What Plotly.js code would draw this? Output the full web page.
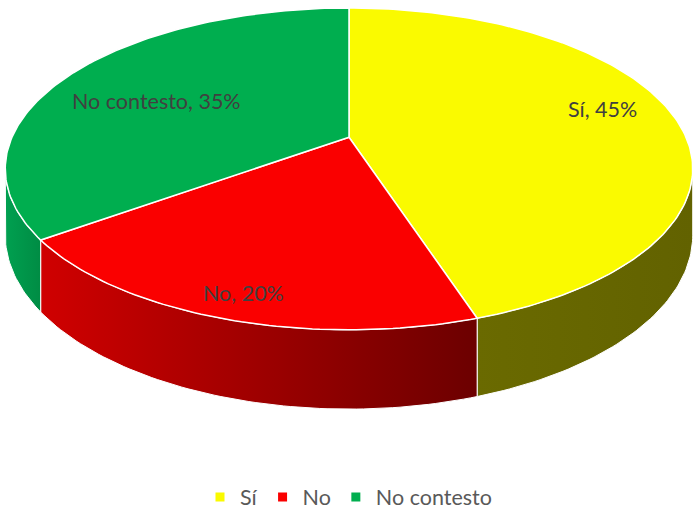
<!DOCTYPE html>
<html>
<head>
<meta charset="utf-8">
<script src="https://cdn.plot.ly/plotly-3.0.1.min.js"></script>
<style>html,body{margin:0;padding:0;background:#fff;}#chart{width:697px;height:518px;}</style>
</head>
<body>
<div id="chart"></div>
<script>
// ---- data ----
const categories = ['Sí', 'No', 'No contesto'];
const values = [45, 20, 35];            // percent
const topColors = ['#FAFA00', '#FA0000', '#00AE4F'];
const sideColors = ['#666600', '#B00000', '#00984A'];
const sideGradients = [
  [[0, '#6A6A00'], [1, '#626200']],
  [[0, '#D00000'], [1, '#6C0000']],
  [[0, '#00A050'], [1, '#008C44']]
];

// ---- 3D-pie projection (style constants) ----
const CX = 349, CY = 138, RX = 337, RY = 155.6, K = 0.197, DEPTH = 64;
const labelRadius = [0.78, 0.85, 0.68];
const labelYShift = [10, -7, -9];

function proj(tDeg, r, drop) {
  const t = tDeg * Math.PI / 180;
  const u = r * Math.sin(t), v = -r * Math.cos(t);
  const s = 1 / (1 - K * v);
  return [CX + RX * u * s, CY + RY * v * s + drop * s];
}

const total = values.reduce((a, b) => a + b, 0);
const angles = [];
let acc = 0;
values.forEach(v => { const a = acc; acc += v / total * 360; angles.push([a, acc]); });

const visLo = Math.acos(-K) * 180 / Math.PI;
const visHi = 360 - visLo;

const traces = [];
// side walls
angles.forEach(([a, b], i) => {
  const lo = Math.max(a, visLo), hi = Math.min(b, visHi);
  if (hi <= lo) return;
  const xs = [], ys = [];
  const n = Math.max(2, Math.ceil(hi - lo));
  for (let j = 0; j <= n; j++) { const p = proj(lo + (hi - lo) * j / n, 1, 0); xs.push(p[0]); ys.push(p[1]); }
  for (let j = n; j >= 0; j--) { const p = proj(lo + (hi - lo) * j / n, 1, DEPTH); xs.push(p[0]); ys.push(p[1]); }
  xs.push(xs[0]); ys.push(ys[0]);
  traces.push({
    type: 'scatter', mode: 'lines', x: xs, y: ys, fill: 'toself',
    fillcolor: sideColors[i],
    fillgradient: { type: 'horizontal', colorscale: sideGradients[i] },
    line: { color: '#ffffff', width: 1 }, hoverinfo: 'skip', showlegend: false
  });
});
// top faces
angles.forEach(([a, b], i) => {
  const c = proj(0, 0, 0);
  const xs = [c[0]], ys = [c[1]];
  const n = Math.max(2, Math.ceil(b - a));
  for (let j = 0; j <= n; j++) { const p = proj(a + (b - a) * j / n, 1, 0); xs.push(p[0]); ys.push(p[1]); }
  xs.push(c[0]); ys.push(c[1]);
  traces.push({
    type: 'scatter', mode: 'lines', x: xs, y: ys, fill: 'toself',
    fillcolor: topColors[i], line: { color: '#ffffff', width: 1.5 },
    name: categories[i], hoverinfo: 'name', showlegend: false
  });
});
// legend entries
categories.forEach((c, i) => {
  traces.push({
    type: 'scatter', mode: 'markers', x: [null], y: [null], name: c,
    marker: { symbol: 'square', size: 9, color: topColors[i] }, showlegend: true
  });
});

const annotations = angles.map(([a, b], i) => {
  const p = proj((a + b) / 2, labelRadius[i], 0);
  return {
    x: p[0], y: p[1], xref: 'x', yref: 'y', showarrow: false, yshift: labelYShift[i],
    text: categories[i] + ', ' + values[i] + '%',
    font: { family: 'Lato, "Open Sans", sans-serif', size: 21.5, color: '#404040' }
  };
});

const layout = {
  width: 697, height: 518,
  margin: { l: 0, r: 0, t: 0, b: 0 },
  paper_bgcolor: '#ffffff', plot_bgcolor: '#ffffff',
  xaxis: { range: [0, 697], visible: false, fixedrange: true },
  yaxis: { range: [518, 0], visible: false, fixedrange: true },
  showlegend: true,
  legend: {
    orientation: 'h', x: 0.5, xanchor: 'center', y: 1 - 500 / 518, yanchor: 'middle',
    font: { family: 'Lato, "Open Sans", sans-serif', size: 21.5, color: '#595959' },
    itemwidth: 30, bgcolor: 'rgba(0,0,0,0)'
  },
  annotations: annotations
};

Plotly.newPlot('chart', traces, layout, { displayModeBar: false, staticPlot: true });
</script>
</body>
</html>
